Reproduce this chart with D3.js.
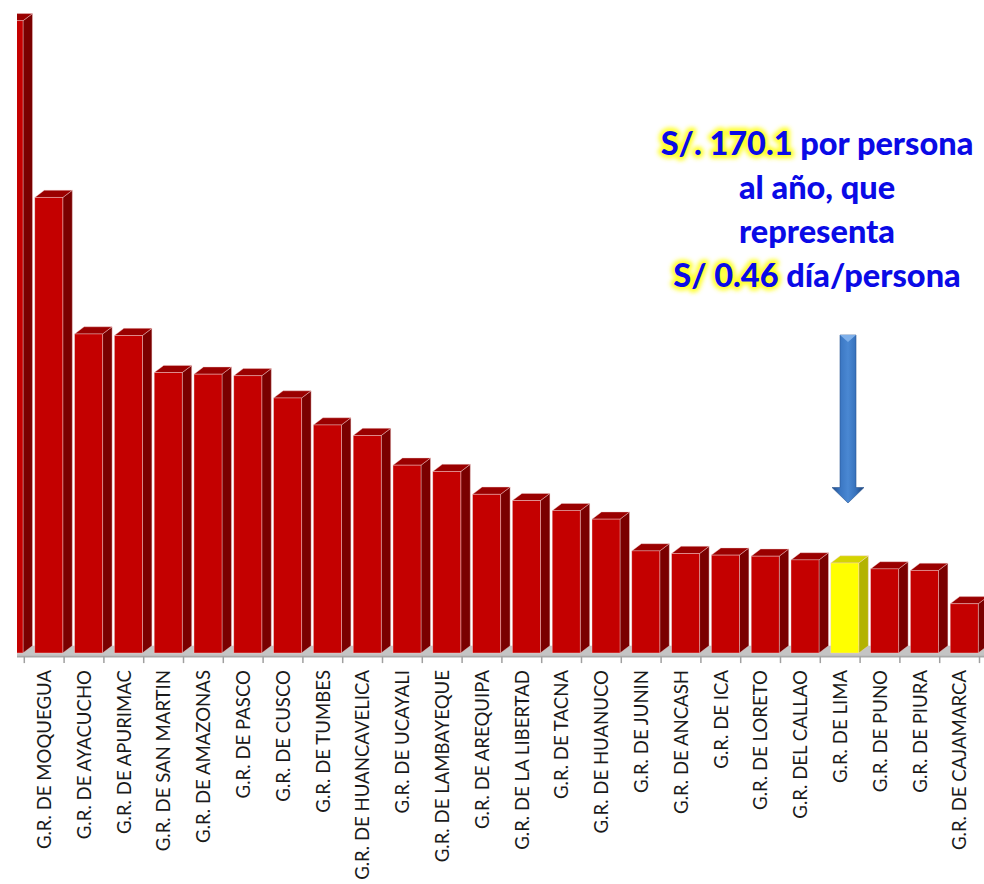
<!DOCTYPE html>
<html><head><meta charset="utf-8">
<script src="https://cdn.jsdelivr.net/npm/d3@7"></script>
<style>html,body{margin:0;padding:0;background:#fff;} svg{display:block}</style>
</head><body><svg id="c" width="984" height="884"></svg>
<script>
// ---- data ----
const categories = ["", "G.R. DE MOQUEGUA", "G.R. DE AYACUCHO", "G.R. DE APURIMAC", "G.R. DE SAN MARTIN",
  "G.R. DE AMAZONAS", "G.R. DE PASCO", "G.R. DE CUSCO", "G.R. DE TUMBES", "G.R. DE HUANCAVELICA",
  "G.R. DE UCAYALI", "G.R. DE LAMBAYEQUE", "G.R. DE AREQUIPA", "G.R. DE LA LIBERTAD", "G.R. DE TACNA",
  "G.R. DE HUANUCO", "G.R. DE JUNIN", "G.R. DE ANCASH", "G.R. DE ICA", "G.R. DE LORETO",
  "G.R. DEL CALLAO", "G.R. DE LIMA", "G.R. DE PUNO", "G.R. DE PIURA", "G.R. DE CAJAMARCA"];
const values = [1195, 861, 603, 600, 530, 527, 524, 482, 431, 411, 355, 343, 300, 288, 269, 253,
  193, 188, 185, 183, 176, 170.1, 159, 156, 93];
const highlighted = "G.R. DE LIMA";
const noteLines = [
  [["S/. 170.1", true], [" por persona", false]],
  [["al año, que", false]],
  [["representa", false]],
  [["S/ 0.46", true], [" día/persona", false]]
];

// ---- layout ----
const W = 984, H = 884;
const svg = d3.select("#c");
const data = categories.map((c, i) => ({c, v: values[i]}));

const step = 39.8, firstTick = 24.3;
const x = d3.scaleBand().domain(categories)
  .range([firstTick - step, firstTick + (categories.length - 1) * step]).padding(0);
const y = d3.scaleLinear().domain([0, 1200]).range([653, 18.1]);

const dx = 9.5, dy = -7.2, barOff = 10.5, barW = 28;
const clipLeft = 17;

const defs = svg.append("defs");
defs.append("clipPath").attr("id", "plotclip").append("rect")
  .attr("x", clipLeft).attr("y", 0).attr("width", W - clipLeft).attr("height", H);
const g = defs.append("linearGradient").attr("id", "arrowGrad").attr("x1", 0).attr("x2", 1).attr("y1", 0).attr("y2", 0);
[[0, "#1f4a85"], [0.25, "#3a76c2"], [0.5, "#4a88d3"], [0.75, "#3671bb"], [1, "#1b3f75"]]
  .forEach(([o, c]) => g.append("stop").attr("offset", o).attr("stop-color", c));
defs.append("filter").attr("id", "glow").attr("x", "-20%").attr("y", "-60%").attr("width", "140%").attr("height", "220%")
  .append("feGaussianBlur").attr("stdDeviation", 2);

const plot = svg.append("g").attr("clip-path", "url(#plotclip)");
const base = y(0);

// floor
plot.append("path")
  .attr("d", `M${clipLeft - 30},${base + 3} L${W + 10},${base + 3} L${W + 10 + dx},${base + dy} L${clipLeft - 30 + dx},${base + dy} Z`)
  .attr("fill", "#c4c4c4");

// bars
const bars = plot.selectAll("g.bar").data(data).join("g").attr("class", "bar");
const colorsFor = d => d.c === highlighted
  ? {front: "#ffff00", side: "#b3b300", top: "#d4d400"}
  : {front: "#c40000", side: "#7a0000", top: "#9a0000"};
bars.each(function(d) {
  const sel = d3.select(this);
  const x0 = x(d.c) + barOff, yt = y(d.v), col = colorsFor(d);
  sel.append("path")
    .attr("d", `M${x0 + barW},${yt} L${x0 + barW + dx},${yt + dy} L${x0 + barW + dx},${base + dy} L${x0 + barW},${base} Z`)
    .attr("fill", col.side).attr("stroke", "#f3d0d0").attr("stroke-width", 0.6).attr("stroke-opacity", 0.7);
  sel.append("path")
    .attr("d", `M${x0},${yt} L${x0 + dx},${yt + dy} L${x0 + barW + dx},${yt + dy} L${x0 + barW},${yt} Z`)
    .attr("fill", col.top).attr("stroke", "#f3d0d0").attr("stroke-width", 0.6).attr("stroke-opacity", 0.7);
  sel.append("rect").attr("x", x0).attr("y", yt).attr("width", barW).attr("height", base - yt)
    .attr("fill", col.front).attr("stroke", "#f3d0d0").attr("stroke-width", 0.6).attr("stroke-opacity", 0.7);
});

// axis line and ticks
const axisY = base + 3.6;
plot.append("line").attr("x1", clipLeft).attr("x2", W).attr("y1", axisY).attr("y2", axisY)
  .attr("stroke", "#a8a8a8").attr("stroke-width", 1.6);
const tickXs = categories.slice(1).map(c => x(c)).concat([x(categories[categories.length - 1]) + x.bandwidth()]);
plot.selectAll("line.tick").data(tickXs).join("line").attr("class", "tick")
  .attr("x1", d => d).attr("x2", d => d).attr("y1", axisY).attr("y2", axisY + 6.5)
  .attr("stroke", "#a0a0a0").attr("stroke-width", 1.5);

// category labels
svg.selectAll("text.lab").data(categories.slice(1)).join("text").attr("class", "lab")
  .attr("transform", c => `translate(${x(c) + x.bandwidth() / 2},670) rotate(-90)`)
  .attr("text-anchor", "end").attr("dy", "0.36em")
  .attr("font-family", "Lato, 'Open Sans', sans-serif").attr("font-size", 18.6).attr("fill", "#1a1a1a")
  .text(c => c);

// arrow pointing at highlighted bar
const hx = x(highlighted) + barOff + barW / 2 + 3.2;
const tipY = y(values[categories.indexOf(highlighted)]) - 60;
const shaftTop = tipY - 168, headY = tipY - 15.5, sw = 8, hw = 16;
svg.append("path")
  .attr("d", `M${hx - sw},${shaftTop} L${hx + sw},${shaftTop} L${hx + sw},${headY} L${hx + hw},${headY} L${hx},${tipY} L${hx - hw},${headY} L${hx - sw},${headY} Z`)
  .attr("fill", "url(#arrowGrad)").attr("stroke", "#2a5590").attr("stroke-width", 0.6);
svg.append("path")
  .attr("d", `M${hx - sw},${shaftTop} L${hx + sw},${shaftTop} L${hx},${shaftTop + 7} Z`)
  .attr("fill", "#7fb0ea");

// annotation text
const noteX = 817, noteY0 = 155, noteDY = 44;
const noteFont = "Lato, 'Open Sans', sans-serif";
noteLines.forEach((segs, i) => {
  [0, 1].forEach(layer => {
    const t = svg.append("text").attr("x", noteX).attr("y", noteY0 + i * noteDY)
      .attr("text-anchor", "middle").attr("font-family", noteFont).attr("font-weight", 900)
      .attr("font-size", 32.5);
    if (layer === 0) t.attr("filter", "url(#glow)");
    segs.forEach(([s, hl]) => {
      const ts = t.append("tspan").text(s);
      if (layer === 0) {
        if (hl) ts.attr("fill", "#ffff30").attr("stroke", "#ffff30").attr("stroke-width", 7).attr("stroke-linejoin", "round");
        else ts.attr("fill", "none");
      } else ts.attr("fill", "#0a0ae6");
    });
  });
});
</script></body></html>
